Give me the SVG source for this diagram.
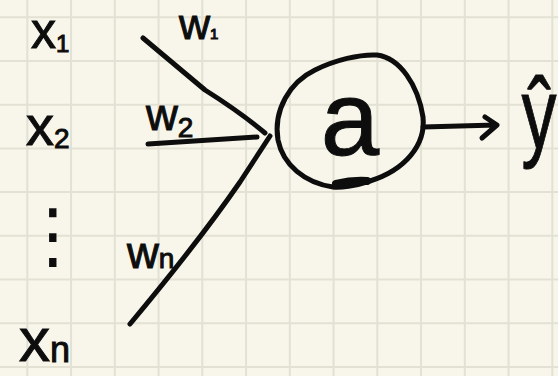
<svg xmlns="http://www.w3.org/2000/svg" width="558" height="376" viewBox="0 0 558 376">
<style>
.bg{fill:#f8f6ea}
.grid{stroke:#e2e1d4;stroke-width:2;fill:none}
.ink{stroke:#0d0d0d;stroke-width:5;fill:none;stroke-linecap:round;stroke-linejoin:round}
.t{font-family:"Liberation Sans",Arial,sans-serif;fill:#0d0d0d;stroke:#0d0d0d;stroke-width:1}
</style>
<rect class="bg" x="0" y="0" width="558" height="376"/>
<path class="grid" d="M27.3,0V376M71.05,0V376M114.8,0V376M158.55,0V376M202.3,0V376M246.05,0V376M289.8,0V376M333.55,0V376M377.3,0V376M421.05,0V376M464.8,0V376M508.55,0V376M552.3,0V376M0,17.3H558M0,61H558M0,104.7H558M0,148.4H558M0,192.1H558M0,235.8H558M0,279.5H558M0,323.2H558M0,366.9H558"/>
<g id="connectors">
  <path id="edge-x1" class="ink" d="M143,38 L205,90 Q240,112 265,133"/>
  <path id="edge-x2" class="ink" d="M148,144 L257,137"/>
  <path id="edge-xn" class="ink" d="M130,324 Q200,240 240,182 L270,136"/>
  <path id="edge-out" class="ink" d="M423,127 L496,125 M485,117 L497,125 L482,138"/>
  <text class="t" x="179" y="39" font-size="43">w<tspan font-size="15" dy="0">1</tspan></text>
  <text class="t" x="146" y="130" font-size="44">w<tspan font-size="28" dy="7">2</tspan></text>
  <text class="t" x="127" y="268" font-size="44">w<tspan font-size="28">n</tspan></text>
</g>
<g id="node-x1"><text class="t" x="31" y="48" font-size="50">x<tspan font-size="24" dy="4">1</tspan></text></g>
<g id="node-x2"><text class="t" x="26" y="145" font-size="56">x<tspan font-size="28" dy="3">2</tspan></text></g>
<g id="node-dots"><text x="53" y="260" font-size="72" text-anchor="middle" style="font-family:'DejaVu Sans',sans-serif;fill:#0d0d0d">⋮</text></g>
<g id="node-xn"><text class="t" x="19" y="361" font-size="62">x<tspan font-size="36" dy="1">n</tspan></text></g>
<g id="node-a">
  <path class="ink" d="M377,55 C400,58 418,85 423,117 C426,145 405,170 370,181 C355,186 340,188 333,187 C305,183 283,165 278,140 C273,110 290,82 315,70 C335,60 360,54 377,55 Z"/>
  <path class="ink" style="stroke-width:8" d="M336,184 Q352,180 367,181"/>
  <text class="t" x="350" y="155" font-size="105" text-anchor="middle">a</text>
</g>
<g id="node-yhat"><text class="t" x="0" y="0" font-size="100" transform="translate(539,148) scale(0.7,1)" text-anchor="middle">ŷ</text></g>
</svg>
